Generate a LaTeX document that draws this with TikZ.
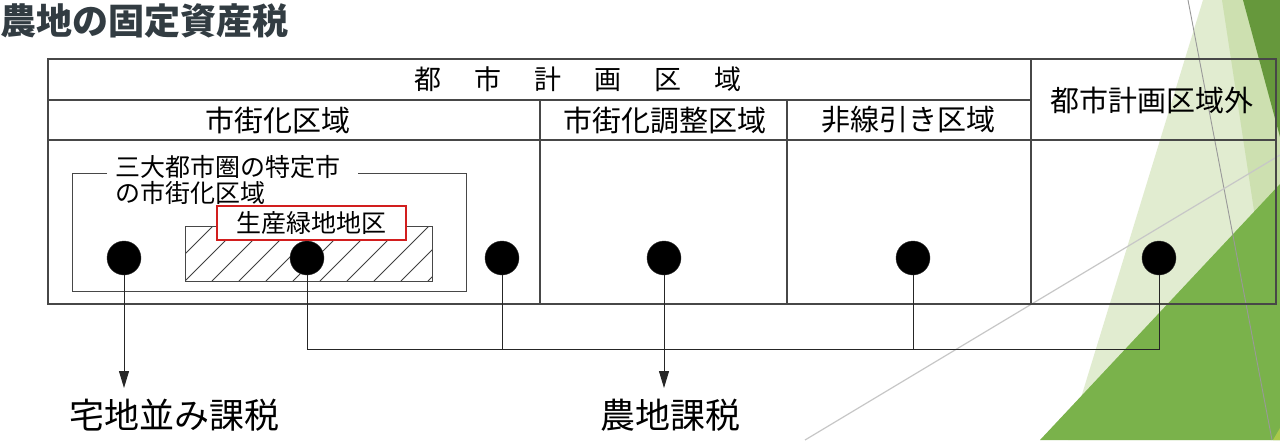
\documentclass[tikz,border=0pt]{standalone}
\usepackage{fontspec}
\setmainfont{Noto Sans CJK JP}
\usetikzlibrary{arrows.meta}
\definecolor{titlecol}{RGB}{50,60,66}
\definecolor{paleg}{RGB}{225,236,208}
\definecolor{bandg}{RGB}{205,224,176}
\definecolor{darkg}{RGB}{102,152,60}
\definecolor{midg}{RGB}{122,178,75}
\definecolor{yellg}{RGB}{168,200,74}
\definecolor{redbox}{RGB}{210,30,30}
\begin{document}
\begin{tikzpicture}[x=1pt,y=-1pt,
  tbl/.style={draw=black!72, line width=1.1pt},
  hdr/.style={inner sep=0pt, font=\fontsize{29}{31}\selectfont},
  sub/.style={inner sep=0pt, font=\fontsize{25}{27}\selectfont},
  big/.style={inner sep=0pt, font=\fontsize{35}{38}\selectfont},
  dot/.style={circle, fill=black, draw=black!80, minimum size=34pt, inner sep=0pt},
  conn/.style={draw=black!85, line width=1pt},
  arr/.style={conn, -{Triangle[length=17pt,width=10pt]}},
  redlbl/.style={draw=redbox, line width=2pt, fill=white, minimum width=189pt, minimum height=34pt, inner sep=0pt, font=\fontsize{25}{27}\selectfont}]
\useasboundingbox (0,0) rectangle (1280,440);
\fill[white] (0,0) rectangle (1280,440);
% background decoration
\fill[paleg] (1203,0) -- (1280,0) -- (1280,440) -- (1068,440) -- cycle;
\fill[bandg] (1222,0) -- (1280,0) -- (1280,250) -- (1260,250) -- cycle;
\fill[darkg] (1243,0) -- (1280,0) -- (1280,137) -- cycle;
\fill[midg] (1280,184) -- (1280,440) -- (1040,440) -- cycle;
\fill[yellg] (1273,440) -- (1280,428) -- (1280,440) -- cycle;
\draw[black!40, line width=0.9pt] (1188,0) -- (1272,440);
\draw[black!22, line width=1.2pt] (805,440) -- (1280,155);
% title
\node[anchor=west, inner sep=0pt, text=titlecol, font=\fontsize{36}{40}\selectfont\bfseries] (title) at (0,21) {農地の固定資産税};
% table
\draw[tbl] (48,59) rectangle (1276,304);
\draw[tbl] (48,100) -- (1031,100);
\draw[tbl] (48,140) -- (1276,140);
\draw[tbl] (1031,59) -- (1031,304);
\draw[tbl] (540,100) -- (540,304);
\draw[tbl] (787,100) -- (787,304);
\node[inner sep=0pt, font=\fontsize{27}{29}\selectfont] (h0) at (578,79) {都\hspace{33pt}市\hspace{33pt}計\hspace{33pt}画\hspace{33pt}区\hspace{33pt}域};
\node[hdr] (h1) at (278,120) {市街化区域};
\node[hdr] (h2) at (665,120) {市街化調整区域};
\node[hdr] (h3) at (908,120) {非線引き区域};
\node[hdr] (h4) at (1152,100) {都市計画区域外};
% inner region
\draw[tbl, line width=1pt] (107,173) -- (72,173) -- (72,291) -- (466,291) -- (466,173) -- (358,173);
\node[sub, anchor=west] (s1) at (115,167) {三大都市圏の特定市};
\node[sub, anchor=west] (s2) at (115,193) {の市街化区域};
% hatched area
\begin{scope}
\clip (185,226) rectangle (432,281);
\foreach \k in {-3,...,10} {
  \draw[black!75, line width=0.8pt] (185+27*\k,281) -- ++(56,-56);
}
\end{scope}
\draw[black!72, line width=1pt] (185,226) rectangle (432,281);
\node[redlbl] (g) at (311.5,223) {生産緑地地区};
% dots
\node[dot] (c1) at (124,258) {};
\node[dot] (c2) at (307,258) {};
\node[dot] (c3) at (502,258) {};
\node[dot] (c4) at (664,258) {};
\node[dot] (c5) at (913,258) {};
\node[dot] (c6) at (1159,258) {};
% connectors
\coordinate (bus) at (0,349);
\coordinate (a1) at (124,388);
\coordinate (a4) at (664,388);
\draw[conn] (c2) -- (c2 |- bus) -- (c6 |- bus) -- (c6);
\draw[conn] (c3) -- (c3 |- bus);
\draw[conn] (c5) -- (c5 |- bus);
\draw[arr] (c1) -- (a1);
\draw[arr] (c4) -- (a4);
% results
\node[big] (t1) at (174,415) {宅地並み課税};
\node[big] (t2) at (670,415) {農地課税};
\end{tikzpicture}
\end{document}
